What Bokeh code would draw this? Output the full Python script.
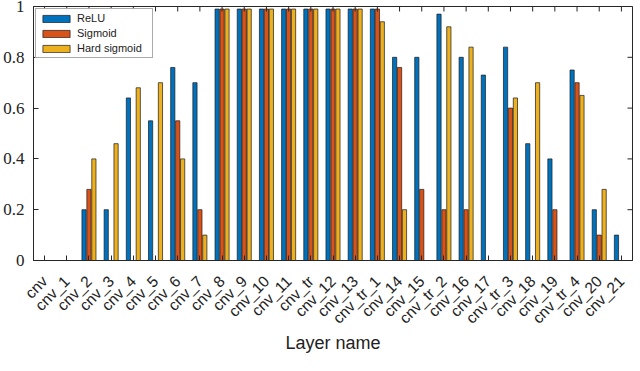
from bokeh.plotting import figure
from bokeh.models import (ColumnDataSource, FactorRange, Range1d, Legend, LegendItem,
                          FixedTicker)
from bokeh.transform import dodge
from bokeh.embed import file_html
from bokeh.resources import INLINE
import math

categories = ["cnv", "cnv_1", "cnv_2", "cnv_3", "cnv_4", "cnv_5", "cnv_6", "cnv_7",
              "cnv_8", "cnv_9", "cnv_10", "cnv_11", "cnv_tr", "cnv_12", "cnv_13",
              "cnv_tr_1", "cnv_14", "cnv_15", "cnv_tr_2", "cnv_16", "cnv_17",
              "cnv_tr_3", "cnv_18", "cnv_19", "cnv_tr_4", "cnv_20", "cnv_21"]
relu = [0, 0, 0.20, 0.20, 0.64, 0.55, 0.76, 0.70, 0.99, 0.99, 0.99, 0.99, 0.99, 0.99,
        0.99, 0.99, 0.80, 0.80, 0.97, 0.80, 0.73, 0.84, 0.46, 0.40, 0.75, 0.20, 0.10]
sigmoid = [0, 0, 0.28, 0, 0, 0, 0.55, 0.20, 0.99, 0.99, 0.99, 0.99, 0.99, 0.99,
           0.99, 0.99, 0.76, 0.28, 0.20, 0.20, 0, 0.60, 0, 0.20, 0.70, 0.10, 0]
hard_sigmoid = [0, 0, 0.40, 0.46, 0.68, 0.70, 0.40, 0.10, 0.99, 0.99, 0.99, 0.99, 0.99,
                0.99, 0.99, 0.94, 0.20, 0, 0.92, 0.84, 0, 0.64, 0.70, 0, 0.65, 0.28, 0]
series_names = ["ReLU", "Sigmoid", "Hard sigmoid"]
y_ticks = [0, 0.2, 0.4, 0.6, 0.8, 1]
x_label = "Layer name"

colors = ["#0072BD", "#D95319", "#EDB120"]
axis_col = "#262626"

src = ColumnDataSource(dict(cat=categories, relu=relu, sigmoid=sigmoid, hard=hard_sigmoid))

p = figure(x_range=FactorRange(factors=categories), y_range=Range1d(0, 1),
           width=640, height=371, output_backend="svg", toolbar_location=None,
           min_border_left=32, min_border_right=8, min_border_top=6, min_border_bottom=111)
p.xgrid.grid_line_color = None
p.ygrid.grid_line_color = None
p.outline_line_color = axis_col
p.outline_line_width = 1

off = 0.222
bw = 0.19
renderers = []
for field, dx, c in zip(["relu", "sigmoid", "hard"], [-off, 0, off], colors):
    r = p.vbar(x=dodge("cat", dx, range=p.x_range), top=field, bottom=0, width=bw,
               source=src, fill_color=c, line_color="#1a1a1a", line_width=0.7)
    renderers.append(r)

# bottom x axis
xa = p.xaxis[0]
xa.major_label_orientation = math.pi / 4
xa.major_label_text_font = "Liberation Sans"
xa.major_label_text_font_size = "15.5px"
xa.major_label_text_color = "#222222"
xa.major_label_standoff = 18
xa.major_tick_in = 5
xa.major_tick_out = 0
xa.axis_line_color = axis_col
xa.major_tick_line_color = axis_col
xa.axis_label = x_label
xa.axis_label_text_font = "Liberation Sans"
xa.axis_label_text_font_size = "18px"
xa.axis_label_text_font_style = "normal"
xa.axis_label_text_color = "#222222"
xa.axis_label_standoff = -3

# left y axis
ya = p.yaxis[0]
ya.ticker = FixedTicker(ticks=y_ticks)
ya.major_label_text_font = "Liberation Serif"
ya.major_label_text_font_size = "17px"
ya.major_label_text_color = "#222222"
ya.major_label_standoff = 9
ya.major_tick_in = 5
ya.major_tick_out = 0
ya.minor_tick_line_color = None
ya.axis_line_color = axis_col
ya.major_tick_line_color = axis_col

# inward ticks on the top and right edges of the box
top_src = ColumnDataSource(dict(cat=categories, y=[p.y_range.end] * len(categories)))
p.scatter(x="cat", y="y", source=top_src, marker="dash", angle=math.pi / 2,
          size=10, line_color=axis_col, line_width=1)
right_src = ColumnDataSource(dict(cat=[categories[-1]] * len(y_ticks), y=y_ticks))
p.scatter(x=dodge("cat", 0.5, range=p.x_range), y="y", source=right_src, marker="dash",
          size=10, line_color=axis_col, line_width=1)

legend = Legend(items=[LegendItem(label=n, renderers=[r]) for n, r in zip(series_names, renderers)],
                location="top_left", margin=2, padding=3, spacing=3,
                glyph_width=34, glyph_height=9, label_height=9, label_width=72,
                label_standoff=4,
                label_text_font="Liberation Sans", label_text_font_size="11px",
                label_text_color="#222222", border_line_color="#555555",
                border_line_width=0.8, background_fill_color="white")
p.add_layout(legend, "center")

open("out.html", "w").write(file_html(p, INLINE))
